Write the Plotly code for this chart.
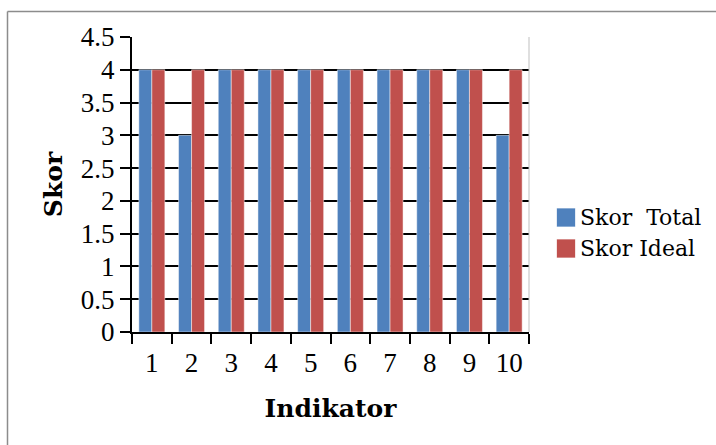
import plotly.graph_objects as go

# Indicator scores: achieved total vs. ideal score
indikator = ["1", "2", "3", "4", "5", "6", "7", "8", "9", "10"]
skor_total = [4, 3, 4, 4, 4, 4, 4, 4, 4, 3]
skor_ideal = [4, 4, 4, 4, 4, 4, 4, 4, 4, 4]
y_ticks = [0, 0.5, 1, 1.5, 2, 2.5, 3, 3.5, 4, 4.5]
series_names = ["Skor\u00a0\u00a0Total", "Skor Ideal"]

BLUE = "#4F81BD"
RED = "#C0504D"
TICK_FONT = dict(family="Liberation Serif", size=27, color="black")
TITLE_FONT = dict(family="DejaVu Serif", size=25, color="black", weight="bold")
LEGEND_FONT = dict(family="DejaVu Serif", size=22, color="black")

# plot area size in pixels, used to place the legend next to it
W, H = 716, 445
L, R, T, B = 132, 187, 37, 113
PW, PH = W - L - R, H - T - B

fig = go.Figure()
for name, vals, col in zip(series_names, [skor_total, skor_ideal], [BLUE, RED]):
    fig.add_trace(go.Bar(
        x=indikator, y=vals, name=name, showlegend=False,
        marker=dict(color=col, line=dict(color="rgba(255,255,255,0.6)", width=0.8)),
    ))

# legend: coloured squares with the series names beside them
shapes = []
annotations = []
for i, (name, col) in enumerate(zip(series_names, [BLUE, RED])):
    cy = 217.5 + i * 31          # row centre, px from top
    x0, x1 = 556.5, 575.5
    shapes.append(dict(
        type="rect", xref="paper", yref="paper",
        x0=(x0 - L) / PW, x1=(x1 - L) / PW,
        y0=(H - B - (cy - 9.5)) / PH, y1=(H - B - (cy + 9.5)) / PH,
        fillcolor=col, line=dict(color="rgba(255,255,255,0.7)", width=1),
    ))
    annotations.append(dict(
        text=name, xref="paper", yref="paper",
        x=(578 - L) / PW, y=(H - B - cy) / PH,
        xanchor="left", yanchor="middle", showarrow=False,
        font=LEGEND_FONT,
    ))

shapes += [
    # thin grey frame on the right edge of the plot area
    dict(type="line", xref="x domain", yref="y domain",
         x0=1, x1=1, y0=0, y1=1, line=dict(color="#BFBFBF", width=1)),
    # outer chart border (top and left edges)
    dict(type="line", xref="paper", yref="paper",
         x0=(7.5 - L) / PW, x1=1.6, y0=(H - B - 11.5) / PH, y1=(H - B - 11.5) / PH,
         line=dict(color="#8C8C8C", width=1.5)),
    dict(type="line", xref="paper", yref="paper",
         x0=(7.5 - L) / PW, x1=(7.5 - L) / PW, y0=-0.6, y1=(H - B - 11.5) / PH,
         line=dict(color="#8C8C8C", width=1.5)),
]

fig.update_layout(
    width=W, height=H,
    margin=dict(l=L, r=R, t=T, b=B, pad=0, autoexpand=False),
    paper_bgcolor="white", plot_bgcolor="white",
    barmode="group", bargap=0.345, bargroupgap=0,
    showlegend=False,
    xaxis=dict(
        type="category", tickson="boundaries",
        ticks="outside", ticklen=10, tickwidth=2, tickcolor="black",
        showline=True, linecolor="black", linewidth=2,
        showgrid=False, tickfont=TICK_FONT, ticklabelstandoff=6,
        title=dict(text="Indikator", font=TITLE_FONT, standoff=22),
    ),
    yaxis=dict(
        range=[0, 4.5], tickvals=y_ticks,
        ticks="outside", ticklen=10, tickwidth=2, tickcolor="black",
        showline=True, linecolor="black", linewidth=2,
        showgrid=True, gridcolor="black", gridwidth=2,
        zeroline=False, tickfont=TICK_FONT,
        title=dict(text="Skor", font=TITLE_FONT, standoff=11),
    ),
    shapes=shapes,
    annotations=annotations,
)

fig.write_html("out.html")
